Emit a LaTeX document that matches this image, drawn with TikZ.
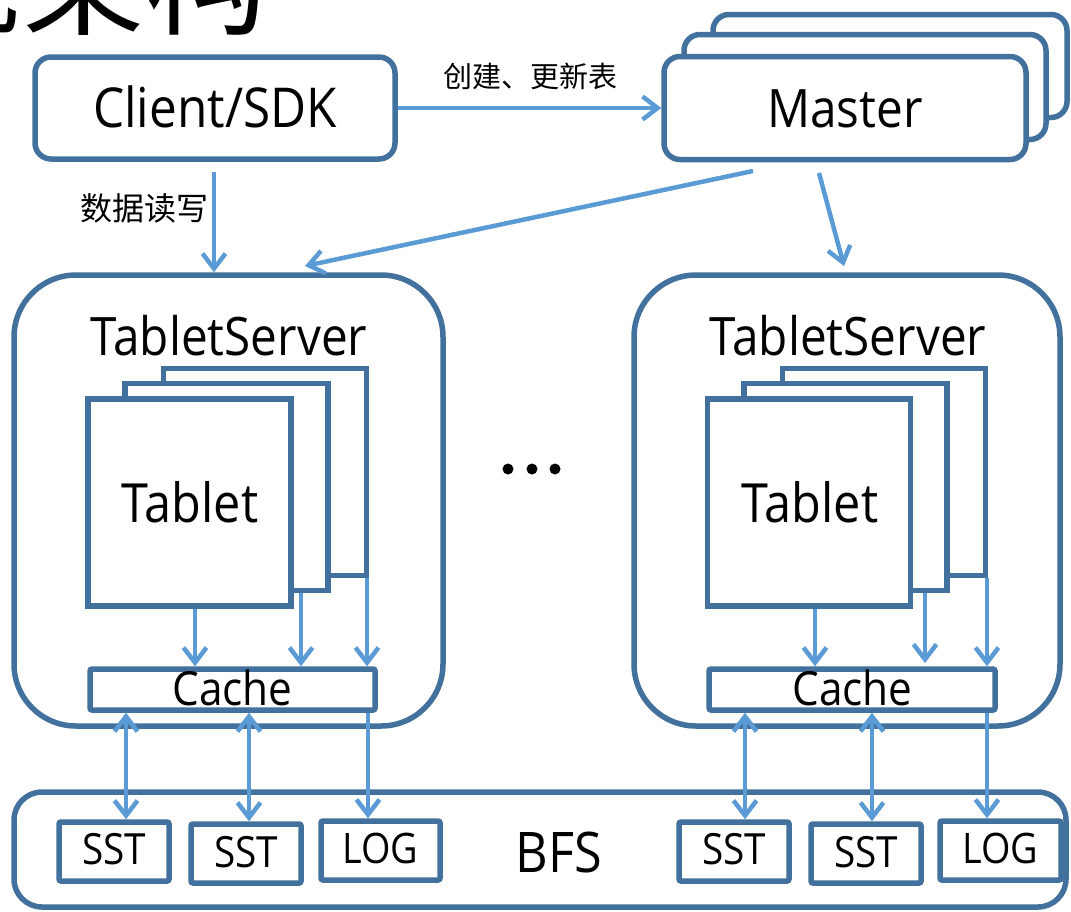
\documentclass[tikz,border=0pt]{standalone}
\usepackage{fontspec}
\setmainfont{Open Sans}[FakeStretch=0.9]
\newfontfamily\cjk{Noto Sans CJK SC}
\usetikzlibrary{arrows.meta,calc}
\definecolor{dk}{RGB}{65,113,156}
\definecolor{lt}{RGB}{91,155,213}
\newcommand\fsz[1]{\fontsize{#1}{#1}\selectfont}

\begin{document}
\begin{tikzpicture}[x=1pt,y=-1pt,
  box/.style={draw=dk, line width=5.5pt, fill=white, inner sep=0pt, rectangle},
  rbox/.style={box, rounded corners=16pt},
  sbox/.style={box, rounded corners=2pt, minimum height=59pt},
  tab/.style={box, minimum width=203pt, minimum height=207pt},
  flow/.style={draw=lt, line width=4.5pt, -{Straight Barb[length=15pt,width=23pt]}},
  both/.style={draw=lt, line width=4.5pt, {Straight Barb[length=15pt,width=23pt]}-{Straight Barb[length=15pt,width=23pt]}},
  txt/.style={inner sep=0pt, anchor=base},
]
\useasboundingbox (0,0) rectangle (1071,911);

% heading, running past the top edge
\node[inner sep=0pt, anchor=base west, font=\cjk\fsz{123}] (head2) at (22,25) {架构};
\node[inner sep=0pt, anchor=base east, font=\cjk\fsz{123}] (head1) at (22,25) {系统};

% client and the master group
\node[rbox, minimum width=360pt, minimum height=102pt] (client) at (215,108) {};
\node[txt, font=\fsz{55}] (clientt) at (215,127) {Client/SDK};

\node[rbox, minimum width=354pt, minimum height=103pt] (m3) at (890,66) {};
\node[rbox, minimum width=362pt, minimum height=105pt] (m2) at (865,87) {};
\node[rbox, minimum width=362pt, minimum height=103pt] (master) at (845,108) {};
\node[txt, font=\fsz{53}] (mastert) at (845,127) {Master};

% tablet servers
\node[box, rounded corners=62pt, minimum width=429pt, minimum height=451pt] (tsL) at (228.5,500.5) {};
\node[box, rounded corners=62pt, minimum width=426pt, minimum height=451pt] (tsR) at (847,500.5) {};
\node[txt, font=\fsz{53}] (tsLt) at (229,355) {TabletServer};
\node[txt, font=\fsz{53}] (tsRt) at (848,355) {TabletServer};

% tablet stacks
\node[tab] (tabL3) at (265,472) {};
\node[tab] (tabL2) at (226.5,487) {};
\node[tab] (tabL) at (189.5,502.5) {};
\node[txt, font=\fsz{54}] (tabLt) at (190,522) {Tablet};

\node[tab] (tabR3) at (884,472) {};
\node[tab] (tabR2) at (845.5,487) {};
\node[tab] (tabR) at (809,502.5) {};
\node[txt, font=\fsz{54}] (tabRt) at (810,522) {Tablet};

% caches
\node[box, rounded corners=2pt, minimum width=285pt, minimum height=41pt] (cacheL) at (232.5,689.5) {};
\node[box, rounded corners=2pt, minimum width=286pt, minimum height=41pt] (cacheR) at (852,689.5) {};
\node[txt, font=\fsz{47}] (cacheLt) at (232.5,705) {Cache};
\node[txt, font=\fsz{47}] (cacheRt) at (852.5,705) {Cache};

% BFS with its files
\node[box, rounded corners=28pt, minimum width=1052pt, minimum height=115pt] (bfs) at (540,849.5) {};
\node[txt, font=\fsz{56}] (bfst) at (559,872) {BFS};

\node[sbox, minimum width=110pt] (sstL1) at (114,851.5) {};
\node[sbox, minimum width=110pt] (sstL2) at (246,853.5) {};
\node[sbox, minimum width=119pt] (logL) at (380.5,850.5) {};
\node[sbox, minimum width=110pt] (sstR1) at (734,851.5) {};
\node[sbox, minimum width=110pt] (sstR2) at (866,853.5) {};
\node[sbox, minimum width=121pt] (logR) at (1000.5,850.5) {};
\node[txt, font=\fsz{43}] (sstL1t) at (114,864) {SST};
\node[txt, font=\fsz{43}] (sstL2t) at (246,867) {SST};
\node[txt, font=\fsz{42}] (logLt) at (380.5,863) {LOG};
\node[txt, font=\fsz{43}] (sstR1t) at (734,864) {SST};
\node[txt, font=\fsz{43}] (sstR2t) at (866,867) {SST};
\node[txt, font=\fsz{42}] (logRt) at (1000.5,863) {LOG};

% ellipsis between the servers
\foreach \x/\n in {508/d1,532/d2,555/d3}
  \node[circle, fill=black, inner sep=0pt, minimum size=11pt] (\n) at (\x,469) {};

% connectors
\draw[flow] (client.east) -- (master.west);
\node[font=\cjk\fsz{29}, inner sep=0pt] (lcreate) at (530,76) {创建、更新表};

\coordinate (c1) at (214,172);
\draw[flow] (c1) -- (c1 |- tsL.north);
\node[font=\cjk\fsz{32}, inner sep=0pt] (lrw) at (144,208) {数据读写};

\coordinate (ms1) at (753,171);
\coordinate (te1) at (305,266);
\draw[flow] (ms1) -- (te1);
\coordinate (ms2) at (819,173);
\coordinate (te2) at (844,266);
\draw[flow] (ms2) -- (te2);

% tablets to caches
\draw[flow] ([xshift=5.5pt]tabL.south) -- ([xshift=5.5pt]tabL.south |- cacheL.north);
\draw[flow] ([xshift=74.5pt]tabL2.south) -- ([xshift=74.5pt]tabL2.south |- cacheL.north);
\draw[flow] ([xshift=102pt]tabL3.south) -- ([xshift=102pt]tabL3.south |- cacheL.north);
\coordinate (cr2) at (925,663);
\draw[flow] ([xshift=6pt]tabR.south) -- ([xshift=6pt]tabR.south |- cacheR.north);
\draw[flow] (tabR2.south -| cr2) -- (cr2);
\draw[flow] ([xshift=103pt]tabR3.south) -- ([xshift=103pt]tabR3.south |- cacheR.north);

% caches to BFS files
\draw[both] (cacheL.south -| 126,0) -- (sstL1.north -| 126,0);
\draw[both] (cacheL.south -| 249,0) -- (sstL2.north -| 249,0);
\draw[flow] (cacheL.south -| 368,0) -- (logL.north -| 368,0);
\draw[both] (cacheR.south -| 745,0) -- (sstR1.north -| 745,0);
\draw[both] (cacheR.south -| 872,0) -- (sstR2.north -| 872,0);
\draw[flow] (cacheR.south -| 987,0) -- (logR.north -| 987,0);
\end{tikzpicture}
\end{document}
